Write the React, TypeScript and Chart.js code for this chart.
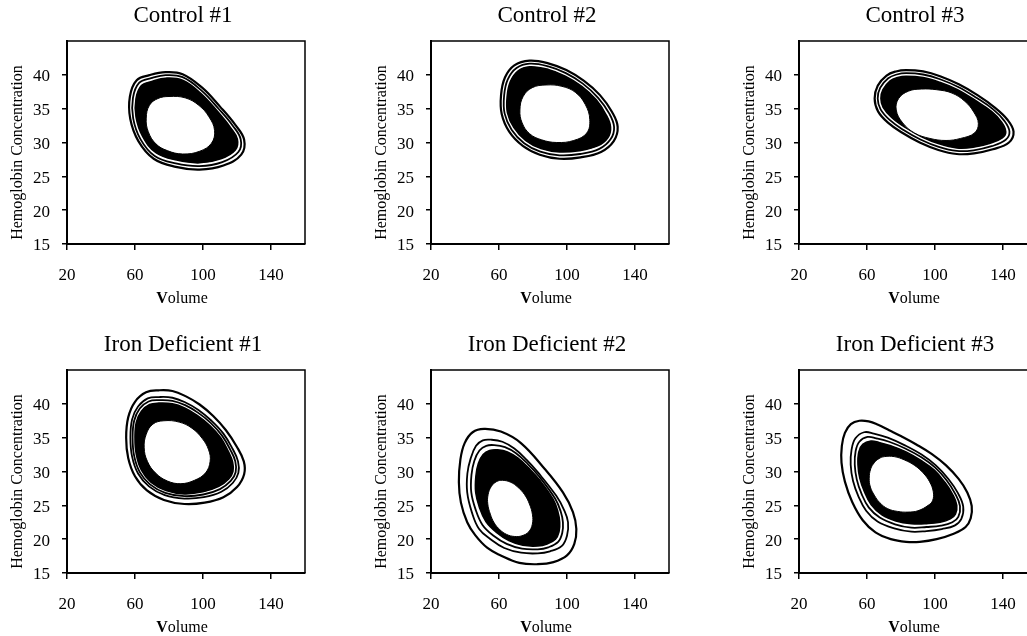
import React, { useEffect, useRef } from 'react';
import { Chart, registerables } from 'chart.js';

Chart.register(...registerables);

// ---------- axis definitions ----------
const xTicks = [20, 60, 100, 140];
const yTicks = [15, 20, 25, 30, 35, 40];
const X_MIN = 20;
const X_MAX = 160;
const Y_MIN = 15;
const Y_MAX = 45;

const panelTitles = [
  'Control #1',
  'Control #2',
  'Control #3',
  'Iron Deficient #1',
  'Iron Deficient #2',
  'Iron Deficient #3',
];

// ---------- contour curves [volume, hemoglobin] ----------
// Control #1
const c1Outer = [[78,40.4],[88,40.1],[99.5,38.1],[110,35.3],[119,32.6],[124.2,30.4],[122.5,28.2],[112,26.6],[98,26.0],[84,26.4],[71,27.6],[62,30.2],[57.2,33.5],[57,36.8],[61,39.2],[68.5,39.95]];
const c1Ring2 = [[78,39.95],[88,39.65],[99,37.7],[109.3,34.95],[117.6,32.45],[122.2,30.45],[120.8,28.6],[111.3,27.1],[98,26.5],[84,26.9],[71.6,28.0],[63.2,30.5],[58.9,33.6],[58.8,36.6],[62.4,38.8],[69.5,39.5]];
const c1Band = [[78,39.5],[88,39.2],[98.5,37.3],[108.5,34.6],[116.2,32.2],[120.2,30.5],[119,28.9],[110.5,27.6],[98,27.0],[84.5,27.4],[72.3,28.5],[64.5,30.9],[60.6,33.8],[60.6,36.5],[63.8,38.4],[70.3,39.05]];
const c1Hole = [[80,36.8],[89.5,36.6],[97.5,35.5],[103.5,33.8],[106.8,31.8],[105,29.9],[98,28.7],[88,28.3],[79,28.8],[72.3,29.8],[67.8,31.6],[66.6,33.6],[68.5,35.5],[73.5,36.5]];

// Control #2
const c2Outer = [[78,42.1],[89,41.7],[99.6,40.7],[110,39.1],[119.4,37.0],[126.5,34.5],[129.8,32.3],[127.5,30.2],[120,28.6],[108,27.8],[95.6,27.6],[84,28.2],[74,29.5],[66,31.6],[61.6,34.2],[61.2,37.0],[63.5,39.6],[69,41.4]];
const c2Ring2 = [[78,41.65],[89,41.25],[99.3,40.25],[109.3,38.7],[118.3,36.6],[124.8,34.3],[127.7,32.3],[125.7,30.5],[119,29.05],[107.7,28.3],[95.6,28.1],[84.3,28.65],[74.8,29.9],[67.4,31.9],[63.3,34.3],[63,36.9],[65.1,39.3],[70.3,41.0]];
const c2Band = [[78,41.2],[89,40.8],[99,39.8],[108.7,38.3],[117.2,36.3],[123,34.1],[125.6,32.3],[124,30.7],[118,29.5],[107.3,28.8],[95.6,28.6],[84.7,29.1],[75.6,30.3],[68.8,32.2],[65,34.4],[64.8,36.8],[66.7,39.0],[71.3,40.6]];
const c2Hole = [[87.7,38.5],[97,38.3],[105,37.4],[110.8,35.6],[113.4,33.4],[111.6,31.4],[104,30.3],[94,30.0],[85,30.4],[78,31.3],[73.6,32.9],[72.3,34.8],[74.2,36.8],[79.5,38.1]];

// Control #3
const c3Outer = [[83,40.7],[93,40.5],[103,39.8],[114,38.6],[125,37.0],[135,35.2],[142.5,33.4],[146.2,31.6],[143.5,30.0],[134,29.0],[123,28.4],[112.8,28.3],[102,28.9],[91,30.0],[81,31.4],[72.5,32.9],[66.5,34.6],[64.5,36.5],[66.3,38.4],[71.5,39.9],[77,40.5]];
const c3Ring2 = [[83,40.25],[93,40.05],[103,39.35],[113.7,38.2],[124.4,36.6],[134.2,34.9],[140.8,33.2],[143.8,31.6],[141.6,30.4],[133.3,29.45],[122.7,28.85],[112.8,28.75],[102.2,29.35],[91.4,30.45],[81.5,31.85],[73.5,33.3],[68,34.9],[66.3,36.5],[67.8,38.1],[72.5,39.5],[77.5,40.05]];
const c3Band = [[83,39.8],[93,39.6],[102.8,38.9],[113.3,37.8],[123.8,36.2],[133.2,34.6],[139.2,33.0],[141.6,31.6],[139.6,30.7],[132.5,29.9],[122.4,29.3],[112.8,29.2],[102.4,29.8],[91.8,30.9],[82,32.3],[74.5,33.7],[69.5,35.2],[68.2,36.5],[69.4,37.8],[73.6,39.1],[78,39.6]];
const c3Hole = [[92,37.9],[101,37.8],[110,37.3],[117.5,36.1],[122.8,34.5],[125.5,32.8],[123.2,31.4],[115,30.6],[106.5,30.3],[97,30.6],[88,31.4],[81,32.9],[77.2,34.8],[78.6,36.5],[84.5,37.6]];

// Iron Deficient #1
const c4Outer = [[74,42.0],[82,41.9],[90,41.1],[98,39.9],[106,38.2],[113.5,36.1],[119.8,33.7],[124,31.5],[124.2,29.6],[120,27.7],[112,26.2],[101,25.4],[89,25.2],[77,25.8],[67,27.2],[60,29.3],[56,32.0],[54.8,35.0],[56,38.0],[60,40.3],[66.5,41.7]];
const c4Ring2 = [[74,41.0],[82,40.9],[89.7,40.2],[97.3,39.1],[105,37.5],[112,35.6],[117.3,33.4],[120.6,31.5],[120.8,29.8],[117.5,28.3],[110.8,27.0],[100.5,26.2],[89,26.0],[77.5,26.5],[68.2,27.8],[61.8,29.7],[58.3,32.2],[57.3,35.0],[58.3,37.7],[61.8,39.6],[67.5,40.8]];
const c4Ring3 = [[74,40.55],[82,40.45],[89.5,39.8],[97,38.7],[104.5,37.2],[111.2,35.3],[116.1,33.2],[119,31.5],[119.2,29.9],[116.3,28.6],[110,27.4],[100.2,26.6],[89,26.35],[77.8,26.85],[68.8,28.1],[62.8,29.9],[59.5,32.3],[58.6,35.0],[59.5,37.5],[62.8,39.3],[68,40.35]];
const c4Band = [[74,40.1],[82,40.0],[89.2,39.4],[96.6,38.3],[104,36.8],[110.4,35.0],[114.8,33.0],[117.4,31.4],[117.6,30.0],[115.1,28.9],[109.3,27.8],[99.9,27.0],[89,26.7],[78.2,27.2],[69.5,28.4],[63.8,30.2],[60.8,32.5],[60,35.0],[60.8,37.3],[63.8,38.9],[68.6,39.9]];
const c4Hole = [[77,37.5],[86,37.3],[93.5,36.4],[99.5,34.9],[103.3,33.2],[104.2,31.5],[101.5,29.8],[95,28.7],[87,28.2],[79,28.6],[72,29.8],[67.3,31.5],[65.4,33.5],[66.6,35.5],[70.5,37.0]];

// Iron Deficient #2
const c5Outer = [[51.2,36.3],[61.1,35.9],[72.9,34.2],[86.8,30.4],[97.6,26.9],[103.5,24.0],[105.5,21.5],[104.3,19.3],[100,17.6],[92,16.6],[82.8,16.3],[72,16.5],[61,17.6],[53.2,18.7],[46,20.6],[41.3,22.5],[37.6,25.4],[36.4,28.4],[37.3,31.8],[39.8,34.2],[44.5,35.8]];
const c5Ring2 = [[55.1,34.7],[62,34.4],[69,33.4],[76,31.8],[82.8,29.9],[93.7,26.4],[98.3,24.3],[100.6,22.5],[100,20.5],[97,19.0],[90,18.2],[82.8,17.9],[73,18.0],[63.1,18.7],[55,20.0],[48.3,21.5],[44,24.0],[41.3,26.9],[41.4,29.7],[43.3,31.9],[46.5,33.8],[50.5,34.6]];
const c5Ring3 = [[57.2,33.9],[63.5,33.6],[70,32.7],[77,31.1],[83.5,29.3],[93,26.0],[96.3,24.1],[97.6,22.5],[97.2,20.9],[94.8,19.6],[89,18.8],[82.8,18.5],[73.5,18.6],[64.5,19.3],[56.8,20.5],[50.3,22.1],[46.2,24.4],[43.7,26.9],[43.8,29.5],[45.5,31.6],[48.5,33.1],[52.5,33.8]];
const c5Band = [[59.1,33.2],[65,32.9],[71,32.0],[77.5,30.5],[84,28.7],[91.8,25.9],[94.6,24.1],[95.7,22.5],[95.3,21.1],[93.2,20.0],[88.3,19.3],[82.8,19.0],[74,19.1],[65.8,19.8],[58.5,21.0],[52.3,22.6],[48.5,24.7],[46.3,26.9],[46.4,29.3],[47.9,31.2],[50.7,32.5],[54.5,33.1]];
const c5Hole = [[62.1,28.7],[67,28.4],[71,27.7],[75,26.6],[77.9,25.2],[79.7,23.6],[79.6,22.2],[77.5,21.1],[73.5,20.5],[69,20.4],[64.5,20.7],[60.5,21.4],[57.2,22.4],[54.9,23.7],[53.4,25.2],[53.6,26.6],[55.5,27.8],[58.5,28.5]];

// Iron Deficient #3
const c6Outer = [[55.5,37.5],[61,37.4],[66.5,36.9],[73,36.1],[80.2,35.2],[89,34.0],[98,32.6],[106.5,30.9],[113.9,28.9],[119,26.9],[121.6,24.9],[121,23.1],[118,21.8],[111,20.8],[101,20.0],[91,19.6],[83,19.6],[74,20.0],[65,21.0],[57.5,22.8],[51.3,25.5],[47,28.5],[45,31.3],[45.2,33.8],[47,35.7],[50.5,37.0]];
const c6Ring2 = [[58.3,35.8],[64,35.6],[72.2,35.0],[82,33.9],[92.1,32.5],[100.5,30.9],[107.9,28.9],[113.5,26.8],[116.6,24.8],[115.5,23.0],[111.5,22.0],[104,21.5],[95,21.2],[86.1,21.1],[76,21.6],[66.2,22.6],[59.5,24.2],[55,26.3],[51.8,28.6],[50.4,31.0],[50.9,33.2],[53.2,34.9]];
const c6Ring3 = [[60.3,35.1],[65.5,34.9],[73,34.4],[82.5,33.4],[92,32.1],[100,30.6],[106.8,28.7],[111.9,26.7],[114.7,24.9],[113.7,23.3],[110.2,22.5],[103.5,22.0],[95,21.8],[86.1,21.7],[76.5,22.2],[67.5,23.2],[61,24.7],[56.8,26.7],[54,28.8],[52.8,31.0],[53.3,33.0],[55.5,34.4]];
const c6Band = [[62.3,34.5],[67,34.3],[74,33.8],[83,32.9],[92,31.6],[99.6,30.2],[105.8,28.4],[110.4,26.6],[112.8,25.0],[112,23.7],[109,23.0],[103,22.5],[95,22.3],[86.1,22.3],[77,22.7],[68.8,23.6],[62.5,25.1],[58.5,27.0],[55.8,29.0],[54.7,31.0],[55.2,32.9],[57.5,34.0]];
const c6Hole = [[70.2,32.2],[76,32.2],[82.1,31.7],[88,30.9],[93,29.8],[96.8,28.5],[99,27.0],[98.6,25.7],[96,25.0],[90,24.2],[84.1,24.0],[78,24.1],[72.2,24.5],[67.5,25.4],[64.3,26.5],[62,27.7],[61.3,29.0],[62.2,30.4],[64.3,31.3],[67,31.9]];

const panelRings = [
  [c1Outer, c1Ring2],
  [c2Outer, c2Ring2],
  [c3Outer, c3Ring2],
  [c4Outer, c4Ring2, c4Ring3],
  [c5Outer, c5Ring2, c5Ring3],
  [c6Outer, c6Ring2, c6Ring3],
];
const panelBands = [c1Band, c2Band, c3Band, c4Band, c5Band, c6Band];
const panelHoles = [c1Hole, c2Hole, c3Hole, c4Hole, c5Hole, c6Hole];

// ---------- layout ----------
const COL_LEFT = [0, 364, 732];
const ROW_TOP = [0, 329];
const CANVAS_W = 364;
const CANVAS_H = 318;
const FONT = '"Liberation Serif", "Times New Roman", serif';

const toXY = (pts: number[][]) => pts.map(([x, y]) => ({ x, y }));

// make each line element a closed, smooth loop
const loopPlugin = {
  id: 'closedLoops',
  afterDatasetsUpdate(chart: any) {
    chart.data.datasets.forEach((_: any, i: number) => {
      const line: any = chart.getDatasetMeta(i).dataset;
      if (line) {
        line._loop = true;
        line._fullLoop = true;
        line._pointsUpdated = false;
        delete line._segments;
        delete line._path;
      }
    });
  },
};

function makeTextPlugin(title: string) {
  return {
    id: 'panelText',
    afterDraw(chart: any) {
      const { ctx, chartArea: a } = chart;
      ctx.save();
      ctx.strokeStyle = '#000';
      ctx.lineWidth = 1.5;
      ctx.beginPath();
      ctx.moveTo(a.left, a.top);
      ctx.lineTo(a.right, a.top);
      ctx.lineTo(a.right, a.bottom);
      ctx.stroke();

      ctx.fillStyle = '#000';
      ctx.textAlign = 'center';
      ctx.textBaseline = 'middle';
      ctx.font = `23px ${FONT}`;
      ctx.fillText(title, a.left + 116, a.top - 25);

      ctx.save();
      ctx.translate(18, (a.top + a.bottom) / 2 + 10);
      ctx.rotate(-Math.PI / 2);
      ctx.font = `16px ${FONT}`;
      ctx.fillText('Hemoglobin Concentration', 0, 0);
      ctx.restore();

      ctx.font = `bold 16px ${FONT}`;
      const wV = ctx.measureText('V').width;
      ctx.font = `16px ${FONT}`;
      const wR = ctx.measureText('olume').width;
      const cx = a.left + 115;
      const start = cx - (wV + wR) / 2;
      ctx.textAlign = 'left';
      ctx.font = `bold 16px ${FONT}`;
      ctx.fillText('V', start, a.bottom + 55);
      ctx.font = `16px ${FONT}`;
      ctx.fillText('olume', start + wV, a.bottom + 55);
      ctx.restore();
    },
  };
}

function Panel({ index }: { index: number }) {
  const ref = useRef<HTMLCanvasElement | null>(null);
  useEffect(() => {
    if (!ref.current) return;
    const rings = panelRings[index];
    const datasets: any[] = [];
    rings.forEach((r, i) => {
      datasets.push({
        data: toXY(r),
        showLine: true,
        fill: false,
        borderColor: '#000',
        borderWidth: i === 0 ? 2.2 : 1.8,
        pointRadius: 0,
        tension: 0.4,
        order: 10 - i,
      });
    });
    datasets.push({
      data: toXY(panelBands[index]),
      showLine: true,
      fill: 'shape',
      backgroundColor: '#000',
      borderColor: '#000',
      borderWidth: 1.6,
      pointRadius: 0,
      tension: 0.4,
      order: 1,
    });
    datasets.push({
      data: toXY(panelHoles[index]),
      showLine: true,
      fill: 'shape',
      backgroundColor: '#fff',
      borderColor: '#000',
      borderWidth: 1,
      pointRadius: 0,
      tension: 0.4,
      order: 0,
    });

    const chart = new Chart(ref.current, {
      type: 'scatter',
      data: { datasets },
      options: {
        responsive: false,
        animation: false,
        devicePixelRatio: 1,
        layout: { padding: { top: 41, right: 59, bottom: 0, left: 0 } },
        plugins: { legend: { display: false }, tooltip: { enabled: false }, title: { display: false } },
        scales: {
          x: {
            type: 'linear',
            min: X_MIN,
            max: X_MAX,
            afterBuildTicks: (s: any) => { s.ticks = xTicks.map((v) => ({ value: v })); },
            afterFit: (s: any) => { s.height = 74; },
            grid: { drawOnChartArea: false, drawTicks: true, tickLength: 6, color: '#000', lineWidth: 1.5 },
            border: { display: true, color: '#000', width: 2 },
            ticks: { color: '#000', font: { family: FONT, size: 17 }, padding: 15, maxRotation: 0, autoSkip: false },
          },
          y: {
            type: 'linear',
            min: Y_MIN,
            max: Y_MAX,
            afterBuildTicks: (s: any) => { s.ticks = yTicks.map((v) => ({ value: v })); },
            afterFit: (s: any) => { s.width = 67; },
            grid: { drawOnChartArea: false, drawTicks: true, tickLength: 5, color: '#000', lineWidth: 1.5 },
            border: { display: true, color: '#000', width: 2 },
            ticks: { color: '#000', font: { family: FONT, size: 17 }, padding: 12, labelOffset: 2, autoSkip: false },
          },
        },
      },
      plugins: [loopPlugin, makeTextPlugin(panelTitles[index])],
    } as any);
    return () => chart.destroy();
  }, [index]);

  const col = index % 3;
  const row = Math.floor(index / 3);
  return (
    <canvas
      ref={ref}
      width={CANVAS_W}
      height={CANVAS_H}
      style={{ position: 'absolute', left: COL_LEFT[col], top: ROW_TOP[row], width: CANVAS_W, height: CANVAS_H }}
    />
  );
}

export default function App() {
  return (
    <div style={{ position: 'absolute', left: 0, top: 0, width: 1027, height: 636, overflow: 'hidden', background: '#fff' }}>
      {panelTitles.map((_, i) => (
        <Panel key={i} index={i} />
      ))}
    </div>
  );
}
